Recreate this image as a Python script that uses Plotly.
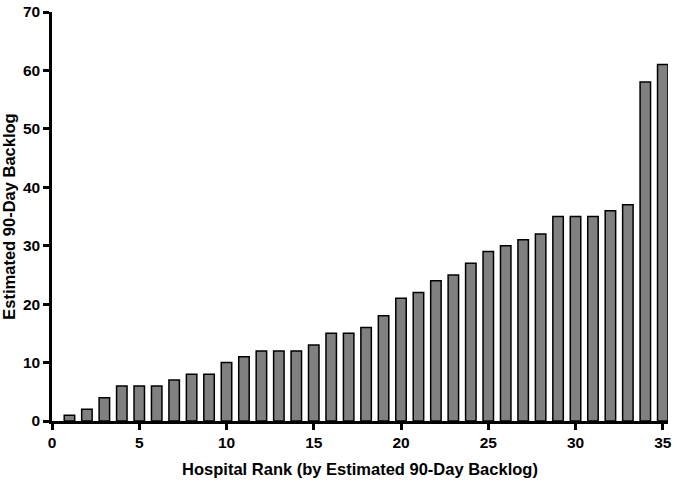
import plotly.graph_objects as go

# hospital rank and estimated 90-day backlog
ranks = list(range(1, 36))
backlog = [1, 2, 4, 6, 6, 6, 7, 8, 8, 10, 11, 12, 12, 12, 13, 15, 15, 16, 18, 21,
           22, 24, 25, 27, 29, 30, 31, 32, 35, 35, 35, 36, 37, 58, 61]
x_ticks = [0, 5, 10, 15, 20, 25, 30, 35]
y_ticks = [0, 10, 20, 30, 40, 50, 60, 70]

font = dict(family="Liberation Sans, Arial, sans-serif", color="black")
tick_font = dict(size=15.5, family="Liberation Sans, Arial", color="black", weight="bold")

fig = go.Figure(go.Bar(x=ranks, y=backlog, width=0.6,
                       marker=dict(color="#808080", line=dict(color="black", width=1.5))))

fig.update_layout(
    width=677, height=483,
    margin=dict(l=52, r=9, t=12, b=62),
    plot_bgcolor="white", paper_bgcolor="white",
    showlegend=False,
    font=font,
)
fig.update_xaxes(range=[0, 35.3], tickvals=x_ticks, showgrid=False, zeroline=False,
                 automargin=False, ticklabeloverflow="allow",
                 showline=True, linecolor="black", linewidth=2.5,
                 ticks="outside", ticklen=6, tickwidth=2.5, tickcolor="black",
                 tickfont=tick_font,
                 title=dict(text="<b>Hospital Rank (by Estimated 90-Day Backlog)</b>",
                            font=dict(size=16.5), standoff=14))
fig.update_yaxes(range=[0, 70], tickvals=y_ticks, showgrid=False, zeroline=False,
                 automargin=False, ticklabeloverflow="allow",
                 showline=True, linecolor="black", linewidth=2.5,
                 ticks="outside", ticklen=6, tickwidth=2.5, tickcolor="black",
                 tickfont=tick_font,
                 title=dict(text="<b>Estimated 90-Day Backlog</b>",
                            font=dict(size=16.5), standoff=8))

# drop the default page margin so the figure fills the window
fig.write_html("out.html", config={"displayModeBar": False},
               post_script="document.body.style.margin='0';")
